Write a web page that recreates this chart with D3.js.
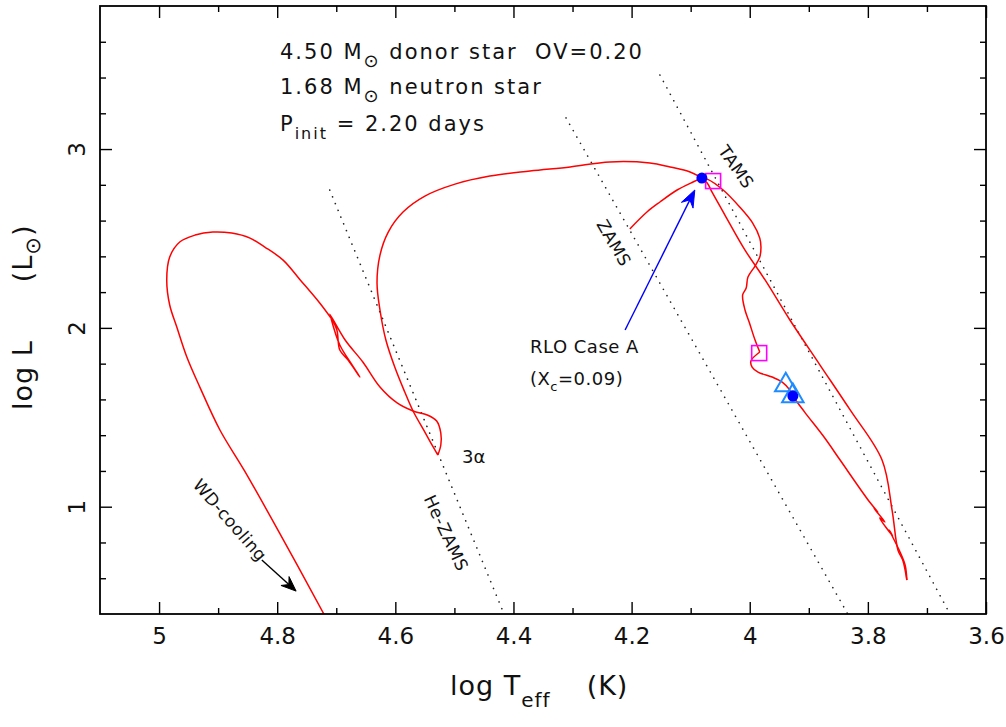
<!DOCTYPE html>
<html>
<head>
<meta charset="utf-8">
<script src="https://cdn.jsdelivr.net/npm/d3@7"></script>
<style>
  body { margin: 0; background: #fff; }
  text { font-family: "DejaVu Sans", sans-serif; fill: #111; }
</style>
</head>
<body>
<svg id="chart" width="1006" height="727"></svg>
<script>
// ---------- axis ticks ----------
const xMajorTicks = [5, 4.8, 4.6, 4.4, 4.2, 4, 3.8, 3.6];
const xMinorTicks = [4.9, 4.7, 4.5, 4.3, 4.1, 3.9, 3.7];
const yMajorTicks = [1, 2, 3];
const yMinorTicks = [0.6, 0.8, 1.2, 1.4, 1.6, 1.8, 2.2, 2.4, 2.6, 2.8, 3.2, 3.4, 3.6];

// ---------- evolutionary track of the donor, [log Teff, log L] ----------
// core hydrogen burning, ZAMS up to onset of RLO
const msTrack = [
  [4.203, 2.553], [4.174, 2.648], [4.152, 2.704], [4.123, 2.771],
  [4.096, 2.816], [4.081, 2.838]
];
// Case A mass transfer
const caseATrack = [
  [4.081, 2.838], [4.072, 2.832], [4.045, 2.771], [4.017, 2.676], [3.995, 2.586],
  [3.983, 2.502], [3.981, 2.452], [3.983, 2.396], [3.991, 2.346], [4.003, 2.284],
  [4.006, 2.223], [4.012, 2.184], [4.008, 2.100], [4.001, 2.033], [3.991, 1.932],
  [3.983, 1.865]
];
// end of Case A, on to the bottom of the giant branch
const caseABTrack = [
  [3.983, 1.865], [3.998, 1.815], [3.996, 1.781], [3.986, 1.753], [3.962, 1.725],
  [3.945, 1.697], [3.932, 1.652], [3.927, 1.619], [3.907, 1.529], [3.873, 1.384],
  [3.847, 1.261], [3.797, 1.026], [3.783, 0.970], [3.790, 0.992], [3.771, 0.915],
  [3.780, 0.937], [3.758, 0.836], [3.764, 0.870], [3.747, 0.757], [3.737, 0.674],
  [3.734, 0.590]
];
// detachment and contraction back to high luminosity
const returnTrack = [
  [3.734, 0.590], [3.741, 0.702], [3.749, 0.757], [3.759, 0.981], [3.776, 1.261],
  [3.830, 1.541], [3.881, 1.792], [3.932, 2.044], [3.974, 2.268], [4.008, 2.435],
  [4.042, 2.631], [4.064, 2.760], [4.072, 2.810], [4.084, 2.844]
];
// excursion to the helium main sequence
const blueTrack = [
  [4.084, 2.844], [4.101, 2.872], [4.135, 2.900], [4.169, 2.922], [4.237, 2.928],
  [4.304, 2.900], [4.372, 2.877], [4.440, 2.849], [4.499, 2.804], [4.550, 2.737],
  [4.587, 2.648], [4.612, 2.536], [4.626, 2.407], [4.631, 2.251], [4.626, 2.100],
  [4.616, 1.932], [4.601, 1.781], [4.584, 1.641], [4.570, 1.535], [4.550, 1.417],
  [4.536, 1.334], [4.528, 1.289]
];
// helium burning and shell flashes
const heliumTrack = [
  [4.528, 1.289], [4.523, 1.345], [4.523, 1.412], [4.530, 1.479], [4.546, 1.513],
  [4.570, 1.535], [4.597, 1.580], [4.626, 1.669], [4.655, 1.809], [4.685, 1.932],
  [4.711, 2.077], [4.699, 1.988], [4.694, 1.876], [4.680, 1.820], [4.660, 1.725],
  [4.673, 1.792], [4.694, 1.904], [4.709, 2.055]
];
// final loop and white-dwarf cooling
const coolingTrack = [
  [4.709, 2.055], [4.728, 2.139], [4.761, 2.268],
  [4.790, 2.379], [4.821, 2.452], [4.846, 2.502], [4.877, 2.530], [4.909, 2.536],
  [4.939, 2.519], [4.965, 2.480], [4.982, 2.396], [4.987, 2.268], [4.982, 2.128],
  [4.970, 2.005], [4.953, 1.837], [4.931, 1.669], [4.897, 1.429], [4.855, 1.199],
  [4.795, 0.847], [4.721, 0.400], [4.710, 0.330]
];

// ---------- reference lines ----------
const zamsLine   = [[4.311, 3.174], [3.834, 0.400]];
const tamsLine   = [[4.152, 3.414], [3.661, 0.400]];
const heZamsLine = [[4.711, 2.771], [4.416, 0.400]];

// ---------- markers ----------
const rloDots        = [[4.081, 2.838], [3.927, 1.619]];
const rloEndSquares  = [[4.062, 2.821], [3.984, 1.859]];
const caseBTriangles = [[3.939, 1.680], [3.927, 1.619]];

// ---------- annotation arrows ----------
const rloArrow = [[4.211, 1.988], [4.093, 2.771]];
const wdArrow  = [[4.826, 0.702], [4.768, 0.528]];

// ---------- layout ----------
const svg = d3.select("#chart");
const frame = { left: 100, right: 986, top: 6, bottom: 614 };

const x = d3.scaleLinear().domain([5.1, 3.6]).range([frame.left, frame.right]);
const y = d3.scaleLinear().domain([0.4, 3.8]).range([frame.bottom, frame.top]);

svg.append("defs").append("clipPath").attr("id", "plotClip")
  .append("rect")
  .attr("x", frame.left).attr("y", frame.top)
  .attr("width", frame.right - frame.left).attr("height", frame.bottom - frame.top);

const plot = svg.append("g").attr("clip-path", "url(#plotClip)");
const straight = d3.line().x(d => x(d[0])).y(d => y(d[1]));
const smooth = d3.line().x(d => x(d[0])).y(d => y(d[1])).curve(d3.curveCatmullRom.alpha(0.5));

// dotted ZAMS / TAMS / He-ZAMS lines
[zamsLine, tamsLine, heZamsLine].forEach(seg => {
  plot.append("path").datum(seg)
    .attr("d", straight)
    .attr("fill", "none")
    .attr("stroke", "#222")
    .attr("stroke-width", 1.6)
    .attr("stroke-linecap", "round")
    .attr("stroke-dasharray", "0.1 7.2");
});

// track
[msTrack, caseATrack, caseABTrack, returnTrack, blueTrack, heliumTrack, coolingTrack].forEach(seg => {
  plot.append("path").datum(seg)
    .attr("d", smooth)
    .attr("fill", "none")
    .attr("stroke", "#ff0000")
    .attr("stroke-width", 1.5)
    .attr("stroke-linejoin", "round");
});

// markers
plot.selectAll(".sq").data(rloEndSquares).enter().append("rect")
  .attr("x", d => x(d[0]) - 7.5).attr("y", d => y(d[1]) - 7.5)
  .attr("width", 15).attr("height", 15)
  .attr("fill", "none").attr("stroke", "#ff00ff").attr("stroke-width", 1.6);

const triSym = d3.symbol().type(d3.symbolTriangle).size(200);
plot.selectAll(".tri").data(caseBTriangles).enter().append("path")
  .attr("d", triSym)
  .attr("transform", d => `translate(${x(d[0])},${y(d[1])})`)
  .attr("fill", "none").attr("stroke", "#1e8cff").attr("stroke-width", 2);

plot.selectAll(".dot").data(rloDots).enter().append("circle")
  .attr("cx", d => x(d[0])).attr("cy", d => y(d[1]))
  .attr("r", 5.5).attr("fill", "#0000ff");

// arrows with notched filled heads
function arrow(pts, color, headLen, headW) {
  const [x0, y0] = [x(pts[0][0]), y(pts[0][1])];
  const [x1, y1] = [x(pts[1][0]), y(pts[1][1])];
  const len = Math.hypot(x1 - x0, y1 - y0);
  const ux = (x1 - x0) / len, uy = (y1 - y0) / len;
  const nx = -uy, ny = ux;
  const bx = x1 - ux * headLen, by = y1 - uy * headLen;
  const notchX = x1 - ux * headLen * 0.65, notchY = y1 - uy * headLen * 0.65;
  plot.append("line")
    .attr("x1", x0).attr("y1", y0).attr("x2", notchX).attr("y2", notchY)
    .attr("stroke", color).attr("stroke-width", 1.4);
  plot.append("path")
    .attr("d", `M${x1},${y1} L${bx + nx * headW / 2},${by + ny * headW / 2} L${notchX},${notchY} L${bx - nx * headW / 2},${by - ny * headW / 2} Z`)
    .attr("fill", color).attr("stroke", color).attr("stroke-width", 1)
    .attr("stroke-linejoin", "miter");
}
arrow(rloArrow, "#0000ff", 17, 13);
arrow(wdArrow, "#000", 15, 12);

// ---------- axes ----------
const axes = svg.append("g");
function addAxis(gen, tx, ty, vals, size, labels) {
  const g = axes.append("g").attr("transform", `translate(${tx},${ty})`)
    .call(gen.tickValues(vals).tickSize(size).tickPadding(0)
      .tickFormat(labels ? d3.format("") : () => ""));
  g.select(".domain").remove();
  g.selectAll(".tick line").attr("stroke", "#000").attr("stroke-width", 1.4);
  return g;
}
const gxb = addAxis(d3.axisBottom(x), 0, frame.bottom, xMajorTicks, -12, true);
addAxis(d3.axisBottom(x), 0, frame.bottom, xMinorTicks, -6, false);
addAxis(d3.axisTop(x), 0, frame.top, xMajorTicks, -12, false);
addAxis(d3.axisTop(x), 0, frame.top, xMinorTicks, -6, false);
const gyl = addAxis(d3.axisLeft(y), frame.left, 0, yMajorTicks, -12, true);
addAxis(d3.axisLeft(y), frame.left, 0, yMinorTicks, -6, false);
addAxis(d3.axisRight(y), frame.right, 0, yMajorTicks, -12, false);
addAxis(d3.axisRight(y), frame.right, 0, yMinorTicks, -6, false);

gxb.selectAll(".tick text")
  .attr("y", 30).attr("dy", 0)
  .style("font-size", "23px").style("font-family", "DejaVu Sans, sans-serif")
  .attr("fill", "#111");
gyl.selectAll(".tick text")
  .attr("x", 0).attr("dy", 0)
  .attr("transform", "translate(-15,0) rotate(-90)")
  .attr("text-anchor", "middle")
  .style("font-size", "23px").style("font-family", "DejaVu Sans, sans-serif")
  .attr("fill", "#111");

// frame
svg.append("rect")
  .attr("x", frame.left).attr("y", frame.top)
  .attr("width", frame.right - frame.left).attr("height", frame.bottom - frame.top)
  .attr("fill", "none").attr("stroke", "#000").attr("stroke-width", 1.8);

// ---------- axis titles ----------
const xt = svg.append("text").attr("x", 450).attr("y", 695)
  .style("font-size", "27px").style("letter-spacing", "1px");
xt.append("tspan").text("log T");
xt.append("tspan").attr("dy", 12).style("font-size", "20px").text("eff");
xt.append("tspan").attr("dy", -12).attr("dx", 36).text("(K)");

const yt = svg.append("text")
  .attr("transform", `translate(32,410) rotate(-90)`)
  .style("font-size", "27px").style("letter-spacing", "1px");
yt.append("tspan").text("log L");
yt.append("tspan").attr("dx", 58).text("(L");
yt.append("tspan").attr("dy", 8).style("font-size", "21px").text("⊙");
yt.append("tspan").attr("dy", -8).text(")");

// ---------- info block ----------
const info = svg.append("g").style("font-size", "21px").style("letter-spacing", "2px");
const l1 = info.append("text").attr("x", 280).attr("y", 59).attr("xml:space", "preserve");
l1.append("tspan").text("4.50 M");
l1.append("tspan").attr("dy", 8).style("font-size", "18px").text("⊙");
l1.append("tspan").attr("dy", -8).text(" donor star  OV=0.20");
const l2 = info.append("text").attr("x", 280).attr("y", 94).attr("xml:space", "preserve");
l2.append("tspan").text("1.68 M");
l2.append("tspan").attr("dy", 8).style("font-size", "18px").text("⊙");
l2.append("tspan").attr("dy", -8).text(" neutron star");
const l3 = info.append("text").attr("x", 280).attr("y", 131).attr("xml:space", "preserve");
l3.append("tspan").text("P");
l3.append("tspan").attr("dy", 8).style("font-size", "16px").text("init");
l3.append("tspan").attr("dy", -8).text(" = 2.20 days");

// ---------- curve labels ----------
const curveLabels = [
  { t: "TAMS",       pos: [4.023, 2.900], rot: 55 },
  { t: "ZAMS",       pos: [4.230, 2.475], rot: 60 },
  { t: "He-ZAMS",    pos: [4.514, 0.853], rot: 65 },
  { t: "WD-cooling", pos: [4.880, 0.925], rot: 49 }
];
svg.selectAll(".clab").data(curveLabels).enter().append("text")
  .attr("transform", d => `translate(${x(d.pos[0])},${y(d.pos[1])}) rotate(${d.rot})`)
  .attr("text-anchor", "middle").attr("dy", "0.35em")
  .style("font-size", "17px").style("letter-spacing", "0.5px")
  .text(d => d.t);

svg.append("text").attr("x", x(4.487)).attr("y", y(1.244))
  .style("font-size", "18px").text("3α");

svg.append("text").attr("x", x(4.372)).attr("y", y(1.859))
  .style("font-size", "18px").style("letter-spacing", "0.5px").text("RLO Case A");
const xc = svg.append("text").attr("x", x(4.372)).attr("y", y(1.680))
  .style("font-size", "18px").style("letter-spacing", "0.5px");
xc.append("tspan").text("(X");
xc.append("tspan").attr("dy", 6).style("font-size", "13px").text("c");
xc.append("tspan").attr("dy", -6).text("=0.09)");
</script>
</body>
</html>
